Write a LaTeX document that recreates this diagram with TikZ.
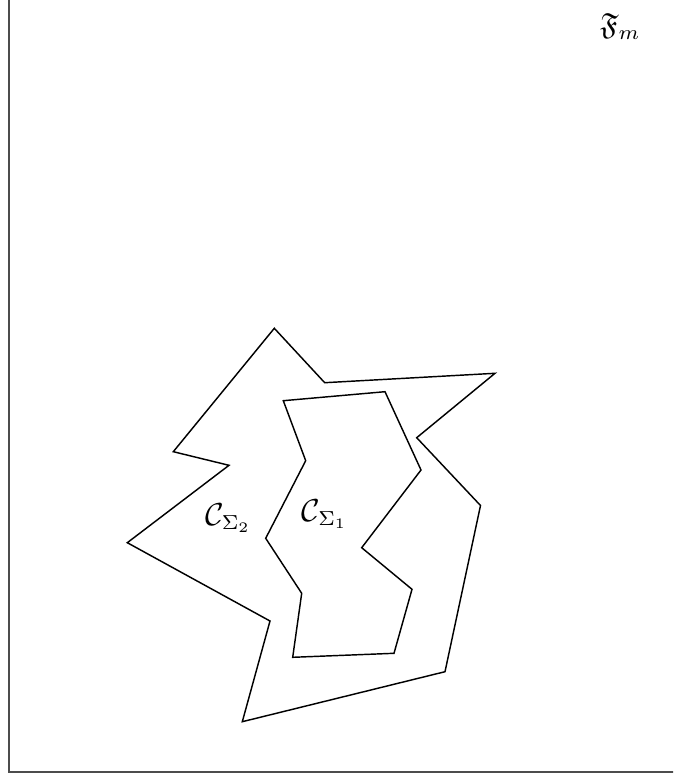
\documentclass[tikz,border=0pt]{standalone}
\usepackage{amssymb}
\begin{document}
\begin{tikzpicture}[x=0.345pt,y=-0.345pt,
  curve/.style={draw=black,line width=0.5pt,line join=miter},
  frame/.style={draw=black!70,line width=0.6pt},
  lbl/.style={inner sep=0pt,anchor=base west,font=\fontsize{10.5pt}{12pt}\selectfont}]
\useasboundingbox (0,0) rectangle (673,776);
\clip (0,0) rectangle (673,776);
\draw[frame] (8.7,771.7) rectangle (700,-20);
% outer curve Sigma_2
\draw[curve] (274.3,328.3) -- (324.7,382.7) -- (495,373.3) -- (416.7,437.7)
  -- (480.5,505.5) -- (445,671.7) -- (242.3,721.7) -- (270,621)
  -- (127.3,542.7) -- (229,465.3) -- (173.3,451.7) -- cycle;
% inner curve Sigma_1
\draw[curve] (283.3,400.7) -- (385,391.7) -- (421,470) -- (361.7,547.7)
  -- (412,589.3) -- (394,653.3) -- (292.7,657.3) -- (301.7,593.3)
  -- (265.7,538.3) -- (305.7,460.7) -- cycle;
\node[lbl] (c2) at (204.5,525) {$\mathcal{C}_{\Sigma_2}$};
\node[lbl] (c1) at (301,521) {$\mathcal{C}_{\Sigma_1}$};
\node[lbl] (fm) at (599.5,35) {$\mathfrak{F}_m$};
\end{tikzpicture}
\end{document}
